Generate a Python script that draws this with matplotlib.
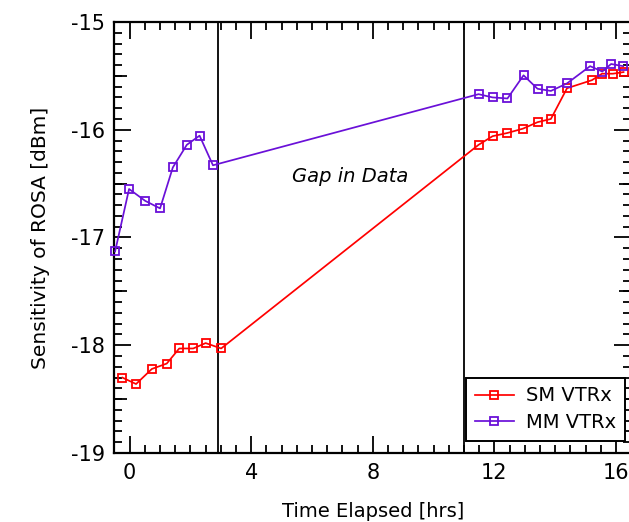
import matplotlib
matplotlib.use("Agg")
import matplotlib.pyplot as plt
from matplotlib.ticker import MultipleLocator, FixedLocator

# Time elapsed [hrs] and ROSA sensitivity [dBm]
sm_t = [-0.24, 0.21, 0.73, 1.22, 1.63, 2.09, 2.50, 3.01,
        11.48, 11.94, 12.43, 12.94, 13.42, 13.86, 14.39, 15.21, 15.54, 15.90, 16.25]
sm_v = [-18.30, -18.36, -18.22, -18.17, -18.03, -18.03, -17.98, -18.03,
        -16.14, -16.06, -16.03, -15.99, -15.93, -15.90, -15.615, -15.54, -15.48, -15.48, -15.465]

mm_t = [-0.48, -0.02, 0.51, 1.00, 1.42, 1.88, 2.30, 2.74,
        11.48, 11.94, 12.43, 12.96, 13.42, 13.86, 14.39, 15.15, 15.55, 15.84, 16.24]
mm_v = [-17.13, -16.55, -16.66, -16.73, -16.35, -16.14, -16.055, -16.33,
        -15.67, -15.70, -15.71, -15.495, -15.62, -15.64, -15.57, -15.41, -15.46, -15.39, -15.41]

gap_edges = [2.89, 11.00]
labels = ["SM VTRx", "MM VTRx"]
x_ticks = [0, 4, 8, 12, 16]
y_ticks = [-19, -18, -17, -16, -15]

RED = "#FF0000"
PURPLE = "#6A10D8"

plt.rcParams["font.family"] = ["DejaVu Sans"]
plt.rcParams["axes.unicode_minus"] = False

fig = plt.figure(figsize=(6.29, 5.22), dpi=100)
ax = fig.add_axes([0.182, 0.1322, 0.8214, 0.8257])

for xv in gap_edges:
    ax.axvline(xv, color="black", lw=1.3, zorder=1)

style = dict(marker="s", markersize=6.2, markerfacecolor="none",
             markeredgewidth=1.3, lw=1.25, clip_on=False, zorder=3)
ax.plot(sm_t, sm_v, color=RED, label=labels[0], **style)
ax.plot(mm_t, mm_v, color=PURPLE, label=labels[1], **style)

ax.text(7.26, -16.43, "Gap in Data", style="italic", fontsize=14,
        ha="center", va="center")

ax.set_xlim(-0.5, 16.5)
ax.set_ylim(-19, -15)
ax.xaxis.set_major_locator(FixedLocator(x_ticks))
ax.xaxis.set_minor_locator(MultipleLocator(0.5))
ax.yaxis.set_major_locator(FixedLocator(y_ticks))
ax.yaxis.set_minor_locator(MultipleLocator(0.1))

ax.tick_params(which="both", direction="in", top=True, right=True,
               width=1.3, labelsize=15, pad=7)
ax.tick_params(which="major", length=12)
ax.tick_params(which="minor", length=6)
for s in ax.spines.values():
    s.set_linewidth(1.6)

# medium ticks on the half units of the sensitivity axis
for side in ("left", "right"):
    sec = ax.secondary_yaxis(side)
    sec.set_yticks([-18.5, -17.5, -16.5, -15.5])
    sec.tick_params(direction="in", length=9, width=1.3, labelleft=False,
                    labelright=False)
    sec.spines[side].set_visible(False)

ax.set_xlabel("Time Elapsed [hrs]", fontsize=14, labelpad=14)
ax.set_ylabel("Sensitivity of ROSA [dBm]", fontsize=14.5, labelpad=15)

leg = ax.legend(loc="lower right", bbox_to_anchor=(0.988, 0.028),
                fontsize=14, frameon=True, fancybox=False,
                edgecolor="black", framealpha=1, handlelength=2.05,
                borderpad=0.45, labelspacing=0.4, handletextpad=0.6,
                borderaxespad=0.0)
leg.get_frame().set_linewidth(1.4)

fig.savefig("out.png", dpi=100)
